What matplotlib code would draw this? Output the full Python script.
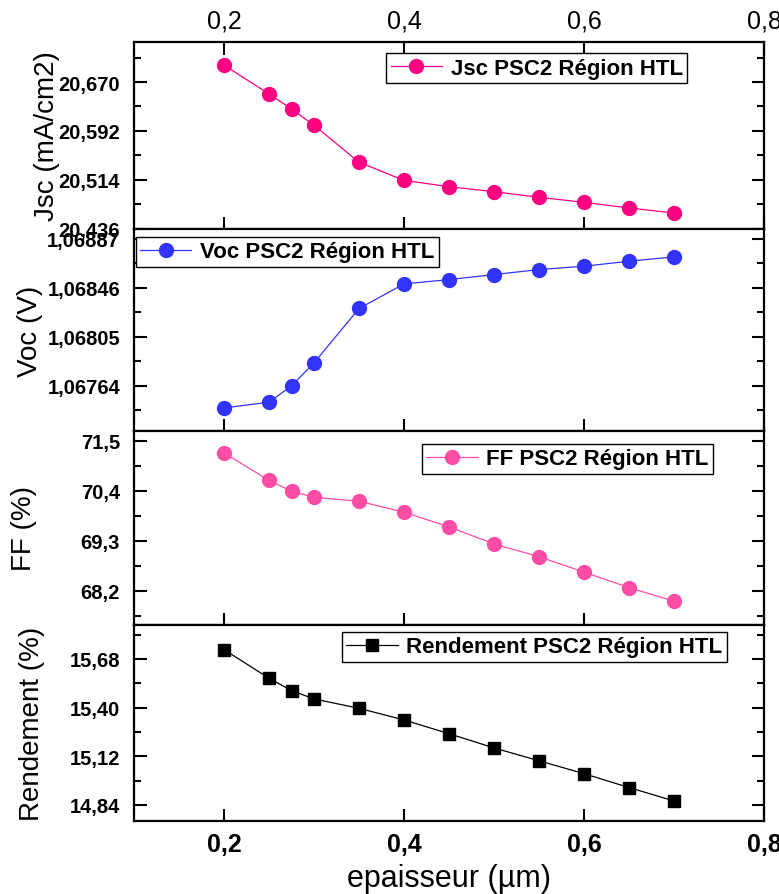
import matplotlib
matplotlib.use('Agg')
import matplotlib.pyplot as plt
from matplotlib.ticker import MultipleLocator, FuncFormatter

plt.rcParams['font.family'] = ['Liberation Sans', 'DejaVu Sans']

# data
epaisseur = [0.2, 0.25, 0.275, 0.3, 0.35, 0.4, 0.45, 0.5, 0.55, 0.6, 0.65, 0.7]
jsc = [20.697, 20.651, 20.627, 20.601, 20.542, 20.513, 20.503, 20.495,
       20.486, 20.478, 20.469, 20.461]
voc = [1.067455, 1.067503, 1.067640, 1.067833, 1.068288, 1.068494, 1.068530,
       1.068572, 1.068614, 1.068642, 1.068684, 1.068720]
ff = [71.23, 70.625, 70.387, 70.256, 70.168, 69.927, 69.604, 69.228,
      68.95, 68.61, 68.27, 67.97]
rendement = [15.734, 15.569, 15.498, 15.45, 15.396, 15.329, 15.25, 15.168,
             15.094, 15.02, 14.94, 14.863]

def virgule(nd):
    return FuncFormatter(lambda v, p: f"{v:.{nd}f}".replace('.', ','))

fig = plt.figure(figsize=(7.79, 8.95), dpi=100)
axes = fig.subplots(4, 1, sharex=True,
                    gridspec_kw={'hspace': 0, 'height_ratios': [187, 202, 194, 196]})
fig.subplots_adjust(left=0.172, right=0.981, top=0.952, bottom=0.0816)

# y values, colour, marker, legend, y label, limits, tick step, decimals, legend spot, label x
panneaux = [
    (jsc, '#FF0080', 'o', 'Jsc PSC2 Région HTL', 'Jsc (mA/cm2)',
     (20.4355, 20.734), 0.078, 3, (0.40, 0.94), -0.117),
    (voc, '#3333FF', 'o', 'Voc PSC2 Région HTL', 'Voc (V)',
     (1.067262, 1.068954), 0.00041, 5, (0.003, 0.96), -0.144),
    (ff, '#FF4DA6', 'o', 'FF PSC2 Région HTL', 'FF (%)',
     (67.45, 71.712), 1.1, 1, (0.457, 0.933), -0.154),
    (rendement, 'black', 's', 'Rendement PSC2 Région HTL', 'Rendement (%)',
     (14.748, 15.8755), 0.28, 2, (0.33, 0.964), -0.141),
]

for ax, (y, col, mk, leg, ylab, lim, pas, nd, pos, lx) in zip(axes, panneaux):
    ax.plot(epaisseur, y, color=col, marker=mk, markersize=10 if mk == 'o' else 9,
            linewidth=0.9, label=leg)
    ax.set_ylim(*lim)
    ax.yaxis.set_major_locator(MultipleLocator(pas))
    ax.yaxis.set_minor_locator(MultipleLocator(pas / 2))
    ax.yaxis.set_major_formatter(virgule(nd))
    ax.set_ylabel(ylab, fontsize=20)
    ax.yaxis.set_label_coords(lx, 0.5)
    for s in ax.spines.values():
        s.set_linewidth(1.6)
    ax.tick_params(axis='y', which='both', direction='in', left=True, right=True,
                   width=1.5, labelsize=14.5, pad=10)
    ax.tick_params(axis='y', which='major', length=9)
    ax.tick_params(axis='y', which='minor', length=5)
    ax.tick_params(axis='x', which='major', direction='in', length=9, width=1.5,
                   bottom=True, top=False, labelbottom=False)
    for t in ax.get_yticklabels():
        t.set_fontweight('bold')
    l = ax.legend(loc='upper left', bbox_to_anchor=pos, borderaxespad=0,
                  fancybox=False, edgecolor='black', framealpha=1,
                  prop={'weight': 'bold', 'size': 16}, handlelength=2.3,
                  handletextpad=0.4, borderpad=0.2)
    l.get_frame().set_linewidth(1.0)

axes[0].set_xlim(0.1, 0.8)
axes[0].xaxis.set_major_locator(MultipleLocator(0.2))
axes[0].xaxis.set_major_formatter(virgule(1))
axes[0].tick_params(axis='x', top=True, labeltop=True, labelsize=18, pad=7)

axes[3].tick_params(axis='x', labelbottom=True, labelsize=18, pad=8)
for t in axes[3].get_xticklabels():
    t.set_fontweight('bold')
axes[3].set_xlabel('epaisseur (µm)', fontsize=22)
axes[3].xaxis.set_label_coords(0.5, -0.215)

fig.savefig('out.png', dpi=100)
